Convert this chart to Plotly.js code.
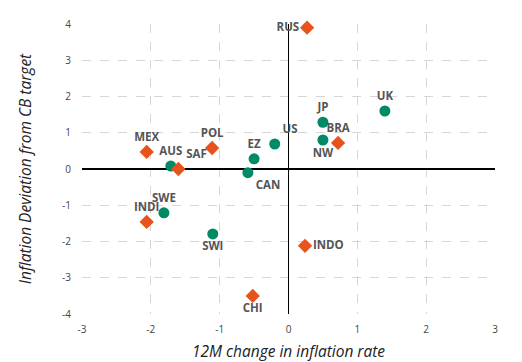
<!DOCTYPE html>
<html>
<head>
<meta charset="utf-8">
<script src="https://cdn.plot.ly/plotly-3.0.1.min.js"></script>
<style>html,body{margin:0;padding:0;background:#fff}#chart{width:522px;height:362px}</style>
</head>
<body>
<div id="chart"></div>
<script>
// Circles (green)
const circleNames = ["UK","JP","NW","US","EZ","CAN","AUS","SWE","SWI"];
const circleX = [1.40, 0.50, 0.50, -0.20, -0.50, -0.59, -1.71, -1.81, -1.10];
const circleY = [1.60, 1.29, 0.80, 0.69, 0.28, -0.10, 0.08, -1.21, -1.79];
const circlePos = ["top center","top center","bottom center","top right","top center","bottom right","top center","top center","bottom center"];

// Diamonds (orange)
const diamondNames = ["RUS","BRA","POL","MEX","SAF","INDI","INDO","CHI"];
const diamondX = [0.27, 0.72, -1.11, -2.06, -1.60, -2.06, 0.24, -0.52];
const diamondY = [3.90, 0.72, 0.58, 0.47, 0.00, -1.46, -2.12, -3.50];
const diamondPos = ["middle left","top center","top center","top center","top right","top center","middle right","bottom center"];

const xTicks = [-3,-2,-1,0,1,2,3];
const yTicks = [-4,-3,-2,-1,0,1,2,3,4];

const labelFont = {family:"Open Sans, sans-serif", size:11.5, color:"#555555", weight:"bold"};

const traces = [
  {x:circleX, y:circleY, text:circleNames, textposition:circlePos, mode:"markers+text", type:"scatter",
   marker:{symbol:"circle", size:11, color:"#008a66"}, textfont:labelFont, hoverinfo:"none", cliponaxis:false},
  {x:diamondX, y:diamondY, text:diamondNames, textposition:diamondPos, mode:"markers+text", type:"scatter",
   marker:{symbol:"diamond", size:11, color:"#e8521b"}, textfont:labelFont, hoverinfo:"none", cliponaxis:false}
];

const axisCommon = {
  showgrid:true, gridcolor:"#d6d6d6", griddash:"dash", gridwidth:1,
  zeroline:true, zerolinecolor:"#000000", zerolinewidth:1.3,
  showline:false, ticks:"", tickfont:{family:"Open Sans, sans-serif", size:10, color:"#444"}
};

const titleFont = {family:"Open Sans, sans-serif", size:15.5, color:"#222", style:"italic"};

const layout = {
  width:522, height:362,
  margin:{l:82, r:27, t:24, b:48},
  paper_bgcolor:"#fff", plot_bgcolor:"#fff",
  showlegend:false,
  font:{family:"Open Sans, sans-serif"},
  xaxis:Object.assign({}, axisCommon, {range:[-3,3], tickvals:xTicks, ticktext:xTicks.map(String),
    ticklabelstandoff:8,
    title:{text:"12M change in inflation rate", font:titleFont, standoff:11}}),
  yaxis:Object.assign({}, axisCommon, {range:[-4,4], tickvals:yTicks, ticktext:yTicks.map(String),
    ticklabelstandoff:10,
    title:{text:"Inflation Deviation from CB target", font:titleFont, standoff:26}})
};

Plotly.newPlot("chart", traces, layout, {staticPlot:true, displayModeBar:false});
</script>
</body>
</html>
